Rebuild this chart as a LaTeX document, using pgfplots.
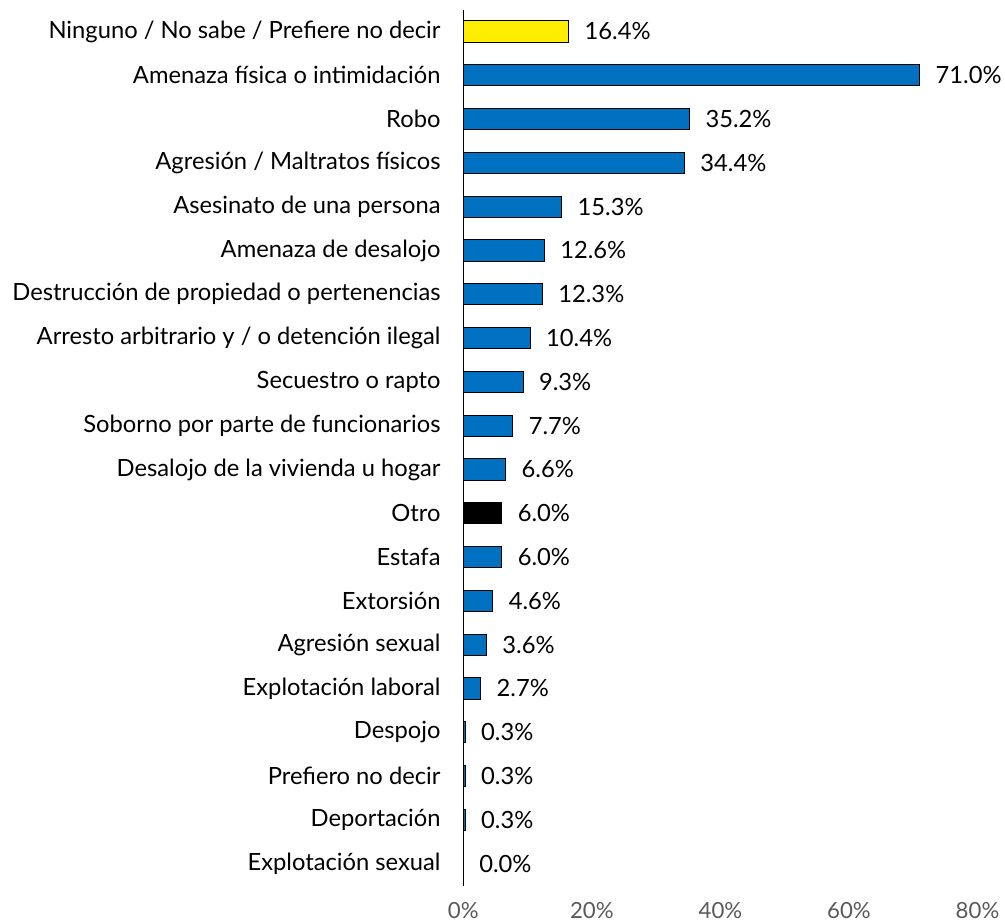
\documentclass[border={9pt 0pt 0pt 9pt}]{standalone}
\usepackage{fontspec}
\setmainfont{Lato}
\usepackage{pgfplots}
\pgfplotsset{compat=1.18}
\definecolor{barblue}{RGB}{0,112,192}
\definecolor{baryellow}{RGB}{255,237,0}
\definecolor{tickgray}{RGB}{89,89,89}
\begin{document}
\begin{tikzpicture}
\begin{axis}[
  scale only axis,
  width=509pt, height=867pt,
  xmin=0, xmax=80,
  ymin=-0.5, ymax=19.5,
  y dir=reverse,
  xbar, bar width=21pt, bar shift=0pt,
  axis y line=left,
  axis x line=bottom,
  x axis line style={draw=none},
  y axis line style={black, line width=1pt, -},
  xtick={0,20,40,60,80},
  xticklabels={0\%,20\%,40\%,60\%,80\%},
  xticklabel style={text=tickgray, font=\fontsize{22}{26}\selectfont},
  x tick label style={yshift=-13pt},
  major tick length=0pt,
  ytick={0,...,19},
  yticklabels={
    Ninguno / No sabe / Prefiere no decir,
    Amenaza física o intimidación,
    Robo,
    Agresión / Maltratos físicos,
    Asesinato de una persona,
    Amenaza de desalojo,
    Destrucción de propiedad o pertenencias,
    Arresto arbitrario y / o detención ilegal,
    Secuestro o rapto,
    Soborno por parte de funcionarios,
    Desalojo de la vivienda u hogar,
    Otro,
    Estafa,
    Extorsión,
    Agresión sexual,
    Explotación laboral,
    Despojo,
    Prefiero no decir,
    Deportación,
    Explotación sexual},
  yticklabel style={font=\fontsize{23.5}{28}\selectfont, xshift=-19pt},
  /pgf/number format/assume math mode=true,
  nodes near coords={\pgfmathprintnumber[fixed,fixed zerofill,precision=1]{\pgfplotspointmeta}\%},
  every node near coord/.append style={font=\fontsize{23.5}{28}\selectfont, text=black, xshift=12pt},
  clip=false,
]
\addplot[draw=black, line width=1pt, fill=baryellow] coordinates {(16.4,0)};
\addplot[draw=black, line width=1pt, fill=barblue] coordinates {
(71.0,1) (35.2,2) (34.4,3) (15.3,4) (12.6,5) (12.3,6) (10.4,7) (9.3,8) (7.7,9) (6.6,10)
(6.0,12) (4.6,13) (3.6,14) (2.7,15) (0.3,16) (0.3,17) (0.3,18) (0.0,19)};
\addplot[draw=black, line width=1pt, fill=black] coordinates {(6.0,11)};
\end{axis}
\end{tikzpicture}
\end{document}
